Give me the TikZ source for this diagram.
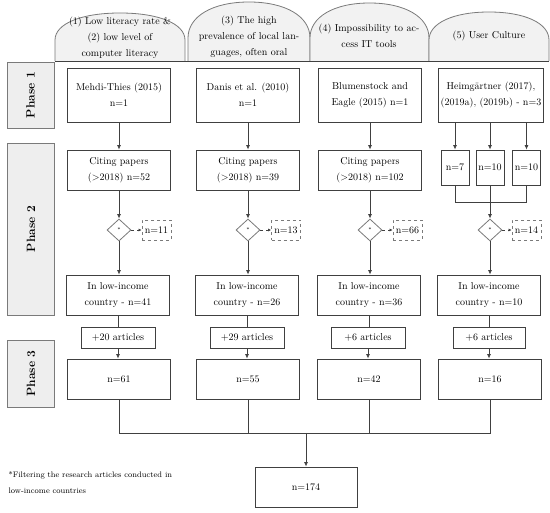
\documentclass[tikz,border=0pt]{standalone}
\usepackage{tikz}
\usetikzlibrary{shapes.geometric, arrows.meta, positioning, calc}
\usepackage{xcolor}
\definecolor{linegray}{HTML}{404040}
\definecolor{edgegray}{HTML}{7A7A7A}
\definecolor{tabgray}{HTML}{F2F2F2}
\definecolor{phasegray}{HTML}{EEEEEE}

\begin{document}
\begin{tikzpicture}[x=1pt, y=-1pt,
    font=\fontsize{10}{16}\selectfont,
    box/.style={draw=linegray, line width=0.8pt, fill=white, align=center,
      inner sep=2pt, minimum width=103pt, minimum height=40pt},
    addbox/.style={draw=linegray, line width=0.8pt, fill=white,
      inner sep=2pt, minimum width=74pt, minimum height=21pt},
    subbox/.style={draw=linegray, line width=0.8pt, fill=white,
      inner sep=1pt, minimum width=28pt, minimum height=35pt},
    dropbox/.style={draw=edgegray, line width=0.8pt, dashed, fill=white,
      inner sep=1pt, minimum width=29pt, minimum height=20pt},
    filt/.style={diamond, draw=edgegray, line width=0.8pt, fill=white, inner sep=0pt,
      minimum width=24pt, minimum height=22pt, font=\fontsize{5}{5}\selectfont},
    phase/.style={draw=edgegray, line width=0.8pt, fill=phasegray, rotate=90,
      minimum height=47pt, font=\fontsize{12}{14}\selectfont\bfseries},
    tab/.style={draw=edgegray, line width=0.8pt, fill=tabgray},
    conn/.style={draw=linegray, line width=0.8pt},
    arr/.style={conn, -{Latex[length=4.5pt,width=4pt]}},
    darr/.style={draw=linegray, line width=0.8pt, dashed, -{Latex[length=3pt,width=3pt]}}]
  \useasboundingbox (0,0) rectangle (550,513);

  % header tabs
  \foreach \xa/\xb/\ys/\yt in {55/185/40/13, 188/310/38/2, 310/429/38/3, 429/549/40/12}{
    \pgfmathsetmacro\xm{(\xa+\xb)/2}
    \pgfmathsetmacro\rx{(\xb-\xa)/2*0.6}
    \pgfmathsetmacro\ry{(\ys-\yt)*0.6}
    \filldraw[tab] (\xa,61) -- (\xa,\ys)
      .. controls (\xa,\ys-\ry) and (\xm-\rx,\yt) .. (\xm,\yt)
      .. controls (\xm+\rx,\yt) and (\xb,\ys-\ry) .. (\xb,\ys) -- (\xb,61);
  }
  \draw[draw=linegray, line width=0.8pt] (55,61) -- (549,61);
  \node[align=center] (hd1) at (120,38) {(1) Low literacy rate \&\\(2) low level of\\computer literacy};
  \node[align=center] (hd2) at (249,37) {(3) The high\\prevalence of local lan-\\guages, often oral};
  \node[align=center] (hd3) at (369,36) {(4) Impossibility to ac-\\cess IT tools};
  \node (hd4) at (489,36) {(5) User Culture};

  % phases
  \node[phase, minimum width=66pt] (ph1) at (30.5,95) {Phase 1};
  \node[phase, minimum width=172pt] (ph2) at (31,229) {Phase 2};
  \node[phase, minimum width=67pt] (ph3) at (31,373.5) {Phase 3};

  % phase 1
  \node[box, minimum height=54pt] (src1) at (119,95) {Mehdi-Thies (2015)\\n=1};
  \node[box, minimum height=54pt] (src2) at (248,95) {Danis et al. (2010)\\n=1};
  \node[box, minimum height=54pt] (src3) at (370,95) {Blumenstock and\\Eagle (2015) n=1};
  \node[box, minimum height=54pt, minimum width=105pt] (src4) at (491,95) {Heimgärtner (2017),\\(2019a), (2019b) - n=3};

  % phase 2
  \node[box] (cite1) at (119,170) {Citing papers\\(>2018) n=52};
  \node[box] (cite2) at (248,170) {Citing papers\\(>2018) n=39};
  \node[box] (cite3) at (370,170) {Citing papers\\(>2018) n=102};
  \node[subbox] (sub1) at (455,167.5) {n=7};
  \node[subbox] (sub2) at (490,167.5) {n=10};
  \node[subbox] (sub3) at (526.5,167.5) {n=10};
  \coordinate (mix4) at (490,202);

  \node[filt] (dia1) at (119,230) {*};
  \node[filt] (dia2) at (248,230) {*};
  \node[filt] (dia3) at (370,230) {*};
  \node[filt] (dia4) at (490,230) {*};
  \node[dropbox] (out1) at (156.5,230) {n=11};
  \node[dropbox] (out2) at (286,230) {n=13};
  \node[dropbox] (out3) at (407.5,230) {n=66};
  \node[dropbox] (out4) at (526.5,230) {n=14};

  \node[box] (low1) at (118,295) {In low-income\\country - n=41};
  \node[box] (low2) at (247,295) {In low-income\\country - n=26};
  \node[box] (low3) at (369,295) {In low-income\\country - n=36};
  \node[box] (low4) at (489,295) {In low-income\\country - n=10};

  % phase 3
  \node[addbox] (add1) at (118,337.5) {+20 articles};
  \node[addbox] (add2) at (247,337.5) {+29 articles};
  \node[addbox] (add3) at (368,337.5) {+6 articles};
  \node[addbox, minimum width=72pt] (add4) at (489,337.5) {+6 articles};

  \node[box] (fin1) at (119,379) {n=61};
  \node[box] (fin2) at (248,379) {n=55};
  \node[box] (fin3) at (369,379) {n=42};
  \node[box] (fin4) at (490,379) {n=16};
  \coordinate (merge) at (306,433);
  \node[box, minimum width=102pt] (total) at (306,487) {n=174};

  \node[anchor=west, align=left, font=\fontsize{8}{16}\selectfont] (note) at (5,483)
    {*Filtering the research articles conducted in\\low-income countries};

  % connectors
  \foreach \i in {1,2,3}{
    \draw[arr] (src\i) -- (cite\i);
    \draw[arr] (cite\i) -- (dia\i);
  }
  \foreach \s in {sub1,sub2,sub3}
    \draw[arr] (src4.south -| \s) -- (\s);
  \draw[conn] (sub1) |- ($(sub3.south |- mix4)$) -- (sub3);
  \draw[conn] (sub2) -- (mix4);
  \draw[arr] (mix4) -- (dia4);
  \foreach \i in {1,2,3,4}{
    \draw[darr] (dia\i) -- (out\i);
    \draw[arr] (dia\i) -- (dia\i |- low\i.north);
    \draw[conn] (low\i) -- (low\i.south |- add\i.north);
    \draw[arr] (add\i) -- (add\i.south |- fin\i.north);
  }
  \draw[conn] (fin1) |- ($(fin4.south |- merge)$) -- (fin4);
  \draw[conn] (fin2) -- (fin2 |- merge);
  \draw[conn] (fin3) -- (fin3 |- merge);
  \draw[arr] (merge) -- (total);
\end{tikzpicture}
\end{document}
